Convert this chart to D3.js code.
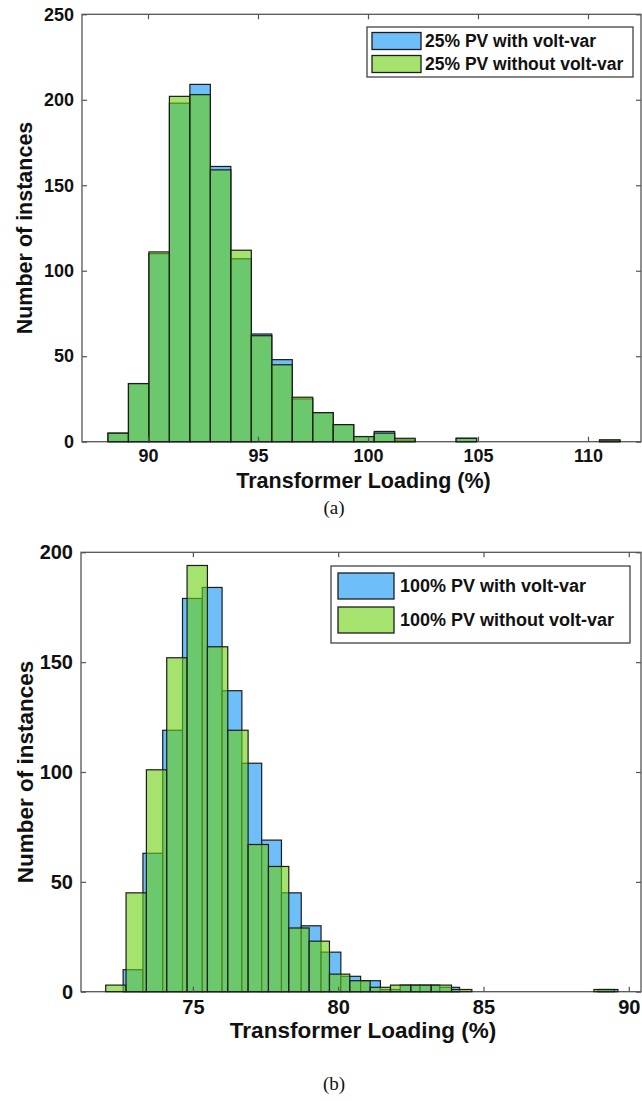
<!DOCTYPE html>
<html>
<head>
<meta charset="utf-8">
<script src="https://cdn.jsdelivr.net/npm/d3@7"></script>
<style>
  body { margin: 0; background: #fff; }
  svg text { font-family: "Liberation Sans", Arial, sans-serif; }
</style>
</head>
<body>
<svg id="fig" width="642" height="1101"></svg>
<script>
// ---- data ----
// (a) 25% PV, bins share the same edges
const topBinStart = 88.18;
const topBinWidth = 0.931;
const topWith    = [5, 34, 110, 198, 209, 161, 107, 63, 48, 25, 17, 10, 3, 6, 1, 0, 0, 2, 0, 0, 0, 0, 0, 0, 1];
const topWithout = [5, 34, 111, 202, 203, 159, 112, 62, 45, 26, 17, 10, 3, 5, 2, 0, 0, 2, 0, 0, 0, 0, 0, 0, 1];
const topXTicks = [90, 95, 100, 105, 110];
const topYTicks = [0, 50, 100, 150, 200, 250];

// (b) 100% PV, the two series have their own bins
const botWithStart = 72.6;
const botWithWidth = 0.681;
const botWith    = [10, 63, 119, 179, 184, 137, 104, 69, 45, 30, 18, 7, 5, 1, 3, 3, 2, 0, 0, 0, 0, 0, 0, 0, 1];
const botWithoutStart = 72.0;
const botWithoutWidth = 0.70;
const botWithout = [3, 45, 101, 152, 194, 157, 119, 67, 57, 29, 23, 8, 5, 2, 3, 3, 3, 1, 0, 0, 0, 0, 0, 0, 1];
const botXTicks = [75, 80, 85, 90];
const botYTicks = [0, 50, 100, 150, 200];

const blueFill = "#6ebefa";
const greenFill = "#69cf0d"; // drawn at 0.6 opacity over the blue

function toBins(counts, start, width) {
    return counts.map((c, i) => ({x0: start + i * width, x1: start + (i + 1) * width, n: c}));
}

function drawHist(svg, cfg) {
    let x = d3.scaleLinear().domain(cfg.xDomain).range([cfg.left, cfg.right]);
    let y = d3.scaleLinear().domain(cfg.yDomain).range([cfg.bottom, cfg.top]);
    let g = svg.append("g");

    // frame
    g.append("rect")
        .attr("x", cfg.left).attr("y", cfg.top)
        .attr("width", cfg.right - cfg.left).attr("height", cfg.bottom - cfg.top)
        .attr("fill", "none").attr("stroke", "#555").attr("stroke-width", 1.3);

    let series = [
        {bins: cfg.withBins, fill: blueFill, op: 1},
        {bins: cfg.withoutBins, fill: greenFill, op: 0.6}
    ];
    series.forEach(s => {
        g.selectAll(null)
            .data(s.bins.filter(d => d.n > 0))
            .enter().append("rect")
            .attr("x", d => x(d.x0))
            .attr("y", d => y(d.n))
            .attr("width", d => x(d.x1) - x(d.x0))
            .attr("height", d => y(0) - y(d.n))
            .attr("fill", s.fill)
            .attr("fill-opacity", s.op)
            .attr("stroke", "#1c1c1c")
            .attr("stroke-width", 1.2);
    });

    // axes, ticks pointing inwards on all four sides
    let ax = g.append("g").attr("transform", "translate(0," + cfg.bottom + ")")
        .call(d3.axisBottom(x).tickValues(cfg.xTicks).tickSize(-5).tickPadding(cfg.xPad));
    let ay = g.append("g").attr("transform", "translate(" + cfg.left + ",0)")
        .call(d3.axisLeft(y).tickValues(cfg.yTicks).tickSize(-5).tickPadding(8));
    g.append("g").attr("transform", "translate(0," + cfg.top + ")")
        .call(d3.axisTop(x).tickValues(cfg.xTicks).tickSize(-5).tickFormat(""));
    g.append("g").attr("transform", "translate(" + cfg.right + ",0)")
        .call(d3.axisRight(y).tickValues(cfg.yTicks).tickSize(-5).tickFormat(""));
    g.selectAll(".domain").remove();
    g.selectAll(".tick line").attr("stroke", "#555").attr("stroke-width", 1.2);
    [ax, ay].forEach(a => a.selectAll("text")
        .attr("fill", "#111")
        .style("font-size", cfg.tickFont + "px")
        .style("font-weight", "bold"));

    // labels
    g.append("text")
        .attr("x", (cfg.left + cfg.right) / 2 + 2).attr("y", cfg.xTitleY)
        .attr("text-anchor", "middle")
        .style("font-size", cfg.titleFont + "px").style("font-weight", "bold")
        .attr("fill", "#111")
        .text("Transformer Loading (%)");
    g.append("text")
        .attr("transform", "translate(" + cfg.yTitleX + "," + ((cfg.top + cfg.bottom) / 2) + ") rotate(-90)")
        .attr("text-anchor", "middle")
        .style("font-size", cfg.titleFont + "px").style("font-weight", "bold")
        .attr("fill", "#111")
        .text("Number of instances");
    g.append("text")
        .attr("x", 334).attr("y", cfg.capY)
        .attr("text-anchor", "middle")
        .style("font-family", "'Liberation Serif', 'Times New Roman', serif")
        .style("font-size", "19px")
        .attr("fill", "#111")
        .text(cfg.caption);

    // legend
    let L = cfg.legend;
    g.append("rect")
        .attr("x", L.x).attr("y", L.y).attr("width", L.w).attr("height", L.h)
        .attr("fill", "#fff").attr("stroke", "#333").attr("stroke-width", 1.2);
    let items = [
        {label: L.labels[0], fill: blueFill, op: 1},
        {label: L.labels[1], fill: greenFill, op: 0.6}
    ];
    items.forEach((it, i) => {
        g.append("rect")
            .attr("x", L.sx).attr("y", L.sy + i * L.step)
            .attr("width", L.sw).attr("height", L.sh)
            .attr("fill", it.fill).attr("fill-opacity", it.op)
            .attr("stroke", "#1c1c1c").attr("stroke-width", 1.3);
        g.append("text")
            .attr("x", L.tx).attr("y", L.sy + i * L.step + L.sh / 2)
            .attr("dy", "0.36em")
            .style("font-size", L.font + "px").style("font-weight", "bold")
            .attr("fill", "#111")
            .text(it.label);
    });
}

let svg = d3.select("#fig");

drawHist(svg, {
    left: 82, right: 641, top: 14.3, bottom: 441.7,
    xDomain: [87, 112.41], yDomain: [0, 250],
    xTicks: topXTicks, yTicks: topYTicks,
    withBins: toBins(topWith, topBinStart, topBinWidth),
    withoutBins: toBins(topWithout, topBinStart, topBinWidth),
    tickFont: 18, titleFont: 21.5, xPad: 8,
    xTitleY: 488, yTitleX: 32, capY: 514, caption: "(a)",
    legend: {x: 367, y: 27, w: 266, h: 50, sx: 372, sy: 32.5, sw: 49, sh: 17, step: 23,
             tx: 425, font: 17.5,
             labels: ["25% PV with volt-var", "25% PV without volt-var"]}
});

drawHist(svg, {
    left: 81, right: 641, top: 552.3, bottom: 991.7,
    xDomain: [71.15, 90.42], yDomain: [0, 200],
    xTicks: botXTicks, yTicks: botYTicks,
    withBins: toBins(botWith, botWithStart, botWithWidth),
    withoutBins: toBins(botWithout, botWithoutStart, botWithoutWidth),
    tickFont: 20, titleFont: 22.5, xPad: 8,
    xTitleY: 1038, yTitleX: 33, capY: 1090, caption: "(b)",
    legend: {x: 331, y: 566, w: 299, h: 77, sx: 338, sy: 573, sw: 56, sh: 26, step: 34,
             tx: 400, font: 18,
             labels: ["100% PV with volt-var", "100% PV without volt-var"]}
});
</script>
</body>
</html>
